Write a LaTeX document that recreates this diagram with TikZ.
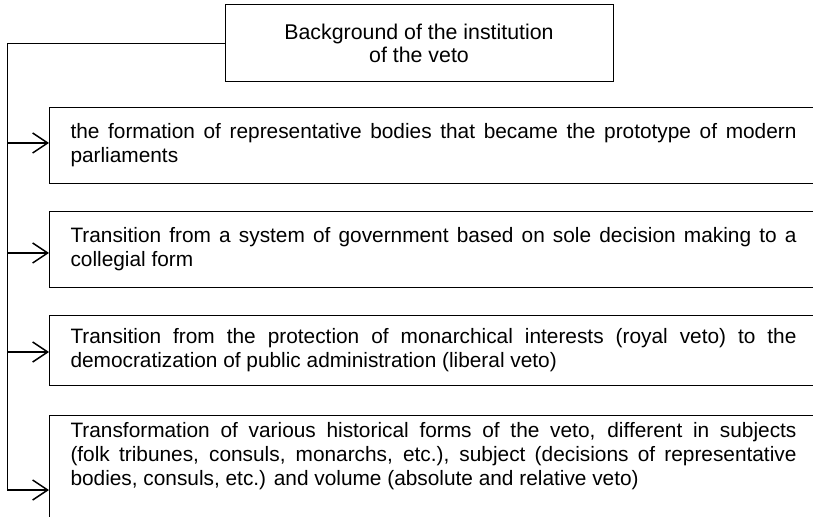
\documentclass[tikz,border=0pt]{standalone}
\usepackage{fontspec}
\setmainfont{Liberation Sans}
\usetikzlibrary{arrows.meta}

\newcommand{\boxtext}[1]{\parbox{435.6pt}{\spaceskip=0pt\xspaceskip=0pt\fontsize{12.5}{14.4}\selectfont #1}}

\begin{document}
\begin{tikzpicture}[x=0.6pt, y=-0.6pt,
        head/.style = {draw, line width=0.6pt, minimum width=232.8pt, minimum height=46.2pt, align=center, font=\fontsize{12.8}{13.5}\selectfont},
        box/.style = {draw, line width=0.6pt, anchor=north west, inner xsep=12.6pt, inner ysep=4pt, text width=478pt, align=left},
        spine/.style = {line width=0.6pt},
        arr/.style = {line width=0.9pt, -{Straight Barb[length=9pt, width=12pt]}}]
                \useasboundingbox (0,0) rectangle (813,517);
                \clip (0,0) rectangle (813,517);

                \node[head] at (419,43.5) (top) {Background of the institution\\of the veto};

                \node[box, minimum height=45.6pt] at (49,107) (b1) {\boxtext{the formation of representative bodies that became the prototype of modern\linebreak parliaments}};
                \node[box, minimum height=45.6pt] at (49,211) (b2) {\boxtext{Transition from a system of government based on sole decision making to a\linebreak collegial form}};
                \node[box, minimum height=42pt] at (49,315) (b3) {\boxtext{Transition from the protection of monarchical interests (royal veto) to the\linebreak democratization of public administration (liberal veto)}};
                \node[box] at (49,415) (b4) {\boxtext{Transformation of various historical forms of the veto, different in subjects\linebreak (folk tribunes, consuls, monarchs, etc.), subject (decisions of representative\linebreak bodies, consuls, etc.) and volume (absolute and relative veto)\par\vspace{40pt}}};

                \coordinate (s1) at (7,143);
                \coordinate (s2) at (7,253);
                \coordinate (s3) at (7,352);
                \coordinate (s4) at (7,490);

                \draw[spine] (top.west) -| (s4);
                \draw[arr] (s1) -- (s1 -| b1.west);
                \draw[arr] (s2) -- (s2 -| b2.west);
                \draw[arr] (s3) -- (s3 -| b3.west);
                \draw[arr] (s4) -- (s4 -| b4.west);
\end{tikzpicture}
\end{document}
